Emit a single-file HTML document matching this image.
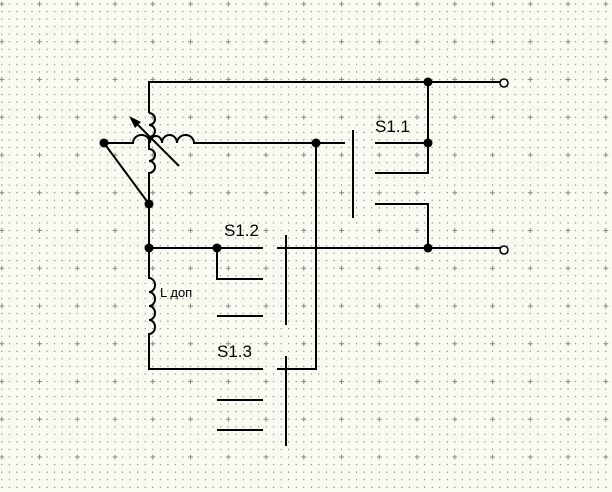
<!DOCTYPE html>
<html><head><meta charset="utf-8"><style>
html,body{margin:0;padding:0;background:#fbfaf2;}
svg{display:block}
text{font-family:"Liberation Sans",sans-serif;fill:#000}
</style></head><body>
<svg width="612" height="492" viewBox="0 0 612 492" xmlns="http://www.w3.org/2000/svg">
<defs>
<pattern id="dots" x="-1.7" y="0.5" width="7.55" height="7.55" patternUnits="userSpaceOnUse">
<rect x="3" y="3" width="1" height="1" fill="#555"/>
</pattern>
<pattern id="crosses" x="-1.7" y="0.5" width="37.75" height="37.75" patternUnits="userSpaceOnUse">
<rect x="1" y="3" width="5" height="1" fill="#888"/>
<rect x="3" y="1" width="1" height="5" fill="#888"/>
</pattern>
</defs>
<rect width="612" height="492" fill="#fbfaf2"/>
<rect width="612" height="492" fill="url(#dots)"/>
<rect width="612" height="492" fill="url(#crosses)"/>
<g stroke="#000" stroke-width="2" fill="none">
<path d="M149 113 V82 H501"/>
<path d="M149 113 a6 6 0 0 1 0 12 a6 6 0 0 1 0 12 M149 137 V149 a6 6 0 0 1 0 12 a6 6 0 0 1 0 12 V248"/>
<path d="M104 143 H133 a8.5 8 0 0 1 17 0 a6 7 0 0 1 12 0 a7.5 8 0 0 1 15 0 a8.5 8 0 0 1 17 0 H345"/>
<path d="M104 143 L149 204"/>
<path d="M179 166 L132 119"/>
<path d="M353 130 V218"/>
<path d="M375 143 H428 M375 173 H428 V82 M375 204 H428 V248"/>
<path d="M149 248 H263 M277 248 H501"/>
<path d="M316 143 V369 H277"/>
<path d="M286 235 V325"/>
<path d="M217 248 V279 H263 M217 316 H263"/>
<path d="M149 248 V278 a6 7 0 0 1 0 14 a6 7 0 0 1 0 14 a6 7 0 0 1 0 14 a6 7 0 0 1 0 14 V369 H263"/>
<path d="M286 356 V446"/>
<path d="M217 400 H263 M217 430 H263"/>
</g>
<polygon points="129,116 141,122 135,128" fill="#000"/>
<g fill="#000">
<circle cx="104" cy="143" r="4.5"/>
<circle cx="149" cy="204" r="4.5"/>
<circle cx="149" cy="248" r="4.5"/>
<circle cx="217" cy="248" r="4.5"/>
<circle cx="316" cy="143" r="4.5"/>
<circle cx="428" cy="82" r="4.5"/>
<circle cx="428" cy="143" r="4.5"/>
<circle cx="428" cy="248" r="4.5"/>
</g>
<g fill="#fff" stroke="#000" stroke-width="1.5">
<circle cx="504" cy="83" r="4"/>
<circle cx="504" cy="250" r="4"/>
</g>
<text x="375" y="132" font-size="17">S1.1</text>
<text x="224" y="236" font-size="17">S1.2</text>
<text x="217" y="357" font-size="17">S1.3</text>
<text x="160" y="297" font-size="13">L доп</text>
</svg>
</body></html>
